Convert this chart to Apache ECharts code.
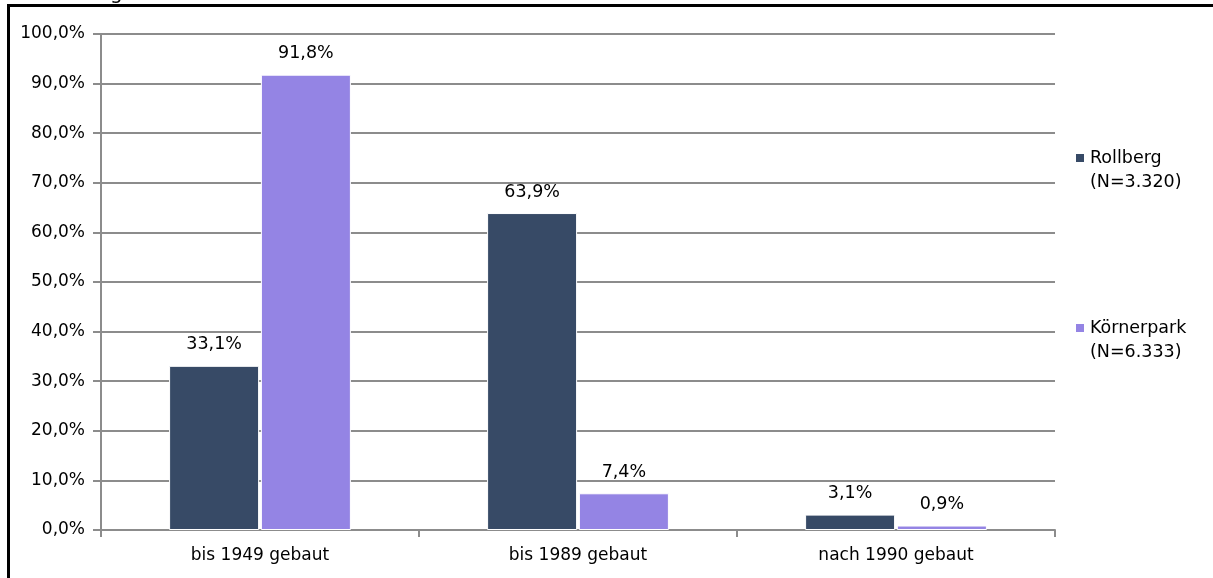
<!DOCTYPE html>
<html>
<head>
<meta charset="utf-8">
<script src="https://cdn.jsdelivr.net/npm/echarts@6/dist/echarts.min.js"></script>
<style>
html,body{margin:0;padding:0;background:#fff;}
#chart{width:1213px;height:578px;}
</style>
</head>
<body>
<div id="chart"></div>
<script>
const categories = ['bis 1949 gebaut', 'bis 1989 gebaut', 'nach 1990 gebaut'];
const seriesNames = ['Rollberg\n(N=3.320)', 'Körnerpark\n(N=6.333)'];
const rollberg = [33.1, 63.9, 3.1];
const koernerpark = [91.8, 7.4, 0.9];
const colors = ['#374A66', '#9484E4'];
const FONT = '"DejaVu Sans", sans-serif';

const fmt = v => v.toFixed(1).replace('.', ',') + '%';

const chart = echarts.init(document.getElementById('chart'));
const mkSeries = (name, data, color) => ({
  name: name,
  type: 'bar',
  data: data,
  barWidth: '28.3%',
  barGap: '2%',
  itemStyle: { color: color, borderColor: '#fff', borderWidth: 1 },
  label: {
    show: true, position: 'top', distance: 12,
    color: '#000', fontFamily: FONT, fontSize: 17.5,
    formatter: p => fmt(p.value)
  }
});
chart.setOption({
  animation: false,
  backgroundColor: '#fff',
  color: colors,
  textStyle: { fontFamily: FONT },
  grid: { left: 101, right: 158, top: 34, bottom: 48, containLabel: false },
  legend: {
    orient: 'vertical', left: 1069, top: 140,
    itemWidth: 10, itemHeight: 48, itemGap: 120,
    icon: 'path://M0,7h10v10h-10z M0,0L10,0 M0,48L10,48',
    textStyle: { fontFamily: FONT, fontSize: 17.5, color: '#000', lineHeight: 24 },
    data: seriesNames
  },
  xAxis: {
    type: 'category',
    data: categories,
    axisLine: { lineStyle: { color: '#8c8c8c', width: 2 } },
    axisTick: { show: true, length: 7, lineStyle: { color: '#8c8c8c', width: 2 } },
    axisLabel: { color: '#000', fontFamily: FONT, fontSize: 17, margin: 17 }
  },
  yAxis: {
    type: 'value', min: 0, max: 100, interval: 10,
    axisLine: { show: true, lineStyle: { color: '#8c8c8c', width: 2 } },
    axisTick: { show: true, length: 8, lineStyle: { color: '#8c8c8c', width: 2 } },
    splitLine: { lineStyle: { color: '#8c8c8c', width: 2 } },
    axisLabel: { color: '#000', fontFamily: FONT, fontSize: 17, margin: 16, formatter: v => fmt(v) }
  },
  graphic: [
    { type: 'rect', shape: { x: 7, y: 4, width: 1206, height: 3 }, style: { fill: '#000' }, z: 100 },
    { type: 'rect', shape: { x: 7, y: 4, width: 3, height: 574 }, style: { fill: '#000' }, z: 100 },
    { type: 'text', left: 110, top: -16, style: { text: 'g', fontFamily: FONT, fontSize: 20, fill: '#000' } }
  ],
  series: [
    mkSeries(seriesNames[0], rollberg, colors[0]),
    mkSeries(seriesNames[1], koernerpark, colors[1])
  ]
});
</script>
</body>
</html>
